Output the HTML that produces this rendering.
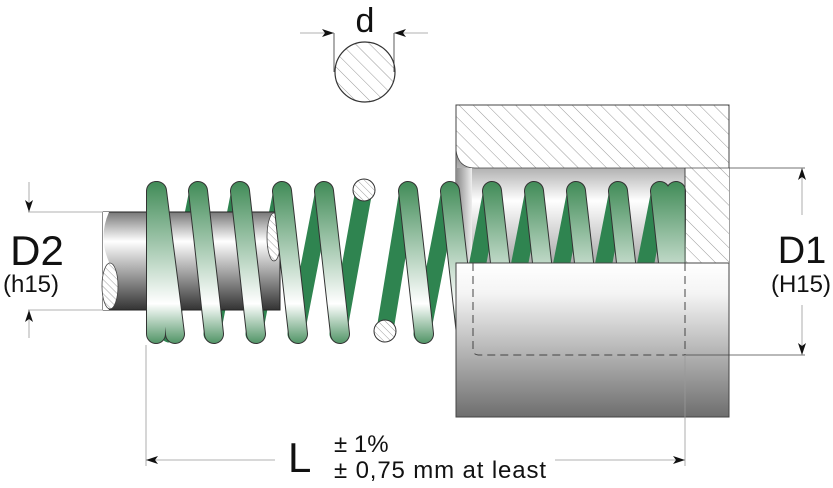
<!DOCTYPE html>
<html><head><meta charset="utf-8"><style>
html,body{margin:0;padding:0;background:#fff;}
svg{display:block;}
text{font-family:"Liberation Sans",sans-serif;fill:#111;}
</style></head><body>
<svg width="833" height="488" viewBox="0 0 833 488" xmlns="http://www.w3.org/2000/svg">
<defs>
<pattern id="h" patternUnits="userSpaceOnUse" width="10" height="10" patternTransform="rotate(-45)">
<rect width="10" height="10" fill="#fff"/><line x1="0" y1="0" x2="0" y2="10" stroke="#999" stroke-width="1"/>
</pattern>
<pattern id="hs" patternUnits="userSpaceOnUse" width="5" height="5" patternTransform="rotate(-45)">
<rect width="5" height="5" fill="#fff"/><line x1="0" y1="0" x2="0" y2="5" stroke="#888" stroke-width="0.8"/>
</pattern>
<linearGradient id="rod" x1="0" y1="0" x2="0" y2="1">
<stop offset="0" stop-color="#777"/><stop offset="0.3" stop-color="#fff"/><stop offset="1" stop-color="#333"/>
</linearGradient>
<linearGradient id="bore" x1="0" y1="0" x2="0" y2="1">
<stop offset="0" stop-color="#888"/><stop offset="0.45" stop-color="#fff"/><stop offset="1" stop-color="#aaa"/>
</linearGradient>
<linearGradient id="blk" x1="0" y1="0" x2="0" y2="1">
<stop offset="0" stop-color="#fff"/><stop offset="0.2" stop-color="#f4f4f4"/><stop offset="1" stop-color="#6e6e6e"/>
</linearGradient>
<linearGradient id="wall" x1="0" y1="0" x2="1" y2="0">
<stop offset="0" stop-color="#888"/><stop offset="1" stop-color="#eee"/>
</linearGradient>
<linearGradient id="coil" gradientUnits="userSpaceOnUse" x1="0" y1="180" x2="0" y2="345">
<stop offset="0" stop-color="#3e8a55"/><stop offset="0.75" stop-color="#ffffff"/><stop offset="1" stop-color="#4a9060"/>
</linearGradient>
<marker id="a" markerWidth="12" markerHeight="8" refX="12" refY="4" orient="auto" markerUnits="userSpaceOnUse">
<path d="M0,0 L12,4 L0,8 L3,4 Z" fill="#111"/></marker>
</defs>

<circle cx="365" cy="72" r="30" fill="url(#h)" stroke="#333" stroke-width="1.2"/>
<line x1="334" y1="33" x2="334" y2="72" stroke="#333" stroke-width="0.8"/>
<line x1="394" y1="33" x2="394" y2="72" stroke="#333" stroke-width="0.8"/>
<line x1="300" y1="33" x2="334" y2="33" stroke="#999" stroke-width="0.8" marker-end="url(#a)"/>
<line x1="428" y1="33" x2="394" y2="33" stroke="#999" stroke-width="0.8" marker-end="url(#a)"/>
<text x="365" y="32" font-size="34" text-anchor="middle">d</text>

<rect x="456" y="105" width="273" height="158" fill="url(#h)" stroke="#444" stroke-width="1"/>
<path d="M456,150 Q458,168 475,168 L685,168 L685,263 L456,263 Z" fill="url(#bore)" stroke="#444" stroke-width="0.8"/>
<rect x="456" y="168" width="16" height="95" fill="url(#wall)"/>

<g stroke="#2f8450" stroke-width="17" stroke-linecap="round">
<line x1="169" y1="334" x2="198" y2="190"/>
<line x1="212" y1="334" x2="240" y2="190"/>
<line x1="254" y1="334" x2="282" y2="190"/>
<line x1="296" y1="334" x2="324" y2="190"/>
<line x1="338" y1="334" x2="364" y2="190"/>
<line x1="385" y1="330" x2="408" y2="190"/>
<line x1="422" y1="334" x2="450" y2="190"/>
<line x1="464" y1="334" x2="492" y2="190"/>
<line x1="506" y1="334" x2="534" y2="190"/>
<line x1="548" y1="334" x2="576" y2="190"/>
<line x1="590" y1="334" x2="618" y2="190"/>
<line x1="632" y1="334" x2="660" y2="190"/>
</g>
<g stroke="#333" stroke-width="1" fill="url(#hs)">
<circle cx="364" cy="190" r="11"/><circle cx="385" cy="331" r="11"/>
</g>

<rect x="103" y="212" width="177" height="98" fill="url(#rod)" stroke="#222" stroke-width="1"/>
<path d="M109,212 Q98,237 109,262 Q98,286 109,310 L103,310 L103,212 Z" fill="#fff"/>
<ellipse cx="110" cy="286" rx="8" ry="23" fill="url(#hs)" stroke="#444" stroke-width="0.8"/>
<ellipse cx="274" cy="237" rx="7" ry="24" fill="url(#hs)" stroke="#444" stroke-width="0.8"/>

<g stroke="#333" stroke-width="20" stroke-linecap="round">
<line x1="156" y1="191" x2="156" y2="334"/>
<line x1="157" y1="191" x2="175" y2="334"/>
<line x1="198" y1="191" x2="214" y2="334"/>
<line x1="240" y1="191" x2="256" y2="334"/>
<line x1="282" y1="191" x2="298" y2="334"/>
<line x1="324" y1="191" x2="340" y2="334"/>
<line x1="408" y1="191" x2="424" y2="334"/>
<line x1="450" y1="191" x2="466" y2="334"/>
<line x1="492" y1="191" x2="508" y2="334"/>
<line x1="534" y1="191" x2="550" y2="334"/>
<line x1="576" y1="191" x2="592" y2="334"/>
<line x1="618" y1="191" x2="634" y2="334"/>
<line x1="660" y1="191" x2="676" y2="334"/>
<line x1="676" y1="191" x2="678" y2="300"/>
</g>
<g stroke="url(#coil)" stroke-width="18" stroke-linecap="round">
<line x1="156" y1="191" x2="156" y2="334"/>
<line x1="157" y1="191" x2="175" y2="334"/>
<line x1="198" y1="191" x2="214" y2="334"/>
<line x1="240" y1="191" x2="256" y2="334"/>
<line x1="282" y1="191" x2="298" y2="334"/>
<line x1="324" y1="191" x2="340" y2="334"/>
<line x1="408" y1="191" x2="424" y2="334"/>
<line x1="450" y1="191" x2="466" y2="334"/>
<line x1="492" y1="191" x2="508" y2="334"/>
<line x1="534" y1="191" x2="550" y2="334"/>
<line x1="576" y1="191" x2="592" y2="334"/>
<line x1="618" y1="191" x2="634" y2="334"/>
<line x1="660" y1="191" x2="676" y2="334"/>
<line x1="676" y1="191" x2="678" y2="300"/>
</g>

<rect x="686" y="168" width="43" height="95" fill="url(#h)"/>
<line x1="685" y1="168" x2="685" y2="263" stroke="#444" stroke-width="0.8"/>

<rect x="456" y="263" width="273" height="154" fill="url(#blk)" stroke="#444" stroke-width="1"/>
<path d="M473,263 L473,350 Q473,355 480,355 L685,355 M685,263 L685,355" fill="none" stroke="#444" stroke-width="1" stroke-dasharray="8,5"/>
<line x1="685" y1="355" x2="805" y2="355" stroke="#444" stroke-width="0.8"/>
<line x1="685" y1="168" x2="805" y2="168" stroke="#444" stroke-width="0.8"/>

<line x1="802" y1="215" x2="802" y2="168" stroke="#999" stroke-width="0.8" marker-end="url(#a)"/>
<line x1="802" y1="305" x2="802" y2="355" stroke="#999" stroke-width="0.8" marker-end="url(#a)"/>
<text x="802" y="263" font-size="38" text-anchor="middle">D1</text>
<text x="801" y="292" font-size="24" text-anchor="middle">(H15)</text>

<line x1="28" y1="212" x2="103" y2="212" stroke="#999" stroke-width="0.8"/>
<line x1="28" y1="310" x2="103" y2="310" stroke="#999" stroke-width="0.8"/>
<line x1="29" y1="182" x2="29" y2="212" stroke="#999" stroke-width="0.8" marker-end="url(#a)"/>
<line x1="29" y1="338" x2="29" y2="310" stroke="#999" stroke-width="0.8" marker-end="url(#a)"/>
<text x="37" y="265" font-size="42" text-anchor="middle">D2</text>
<text x="31" y="292" font-size="24" text-anchor="middle">(h15)</text>

<line x1="146" y1="345" x2="146" y2="466" stroke="#999" stroke-width="0.8"/>
<line x1="685" y1="355" x2="685" y2="466" stroke="#999" stroke-width="0.8"/>
<line x1="275" y1="460" x2="146" y2="460" stroke="#999" stroke-width="0.8" marker-end="url(#a)"/>
<line x1="555" y1="460" x2="685" y2="460" stroke="#999" stroke-width="0.8" marker-end="url(#a)"/>
<text x="288" y="472" font-size="42">L</text>
<text x="334" y="452" font-size="24">± 1%</text>
<text x="334" y="478" font-size="24" textLength="212" lengthAdjust="spacing">± 0,75 mm at least</text>
</svg>
</body></html>
